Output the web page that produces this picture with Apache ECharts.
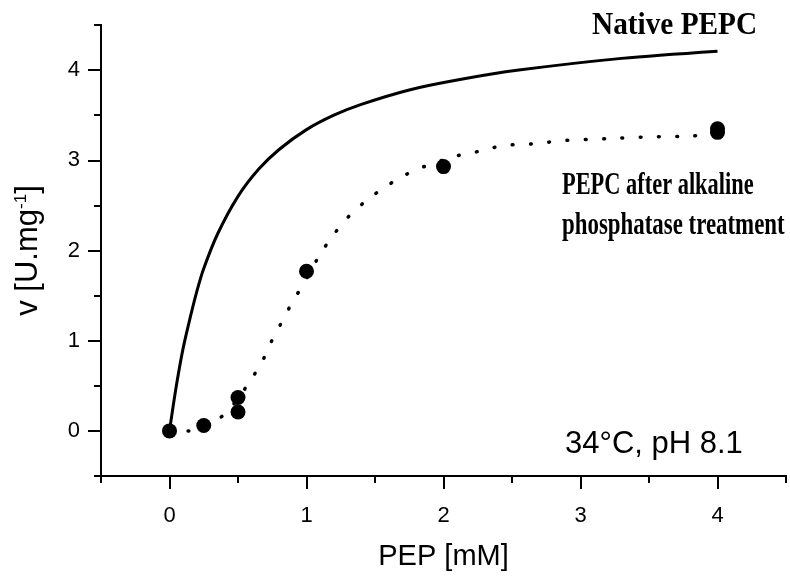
<!DOCTYPE html>
<html>
<head>
<meta charset="utf-8">
<script src="https://cdn.jsdelivr.net/npm/echarts@6/dist/echarts.min.js"></script>
<style>
  html, body { margin: 0; padding: 0; background: #fff; }
  #chart { width: 790px; height: 576px; }
</style>
</head>
<body>
<div id="chart"></div>
<script>
// Native PEPC: saturation curve (PEP in mM, v in U/mg)
const nativePep  = [0, 0.05, 0.1, 0.15, 0.2, 0.25, 0.35, 0.5, 0.65, 0.8, 1.0, 1.2, 1.4, 1.75, 2.1, 2.55, 3.3, 4.0];
const nativeRate = [0, 0.5, 0.92, 1.25, 1.55, 1.8, 2.18, 2.6, 2.9, 3.12, 3.34, 3.5, 3.62, 3.78, 3.89, 4.0, 4.13, 4.21];

// Phosphatase-treated PEPC: sigmoidal fit curve
const treatedFitPep  = [0, 0.15, 0.25, 0.4, 0.5, 0.6, 0.68, 0.74, 0.81, 0.88, 1.0, 1.1, 1.2, 1.31, 1.45, 1.58, 1.71, 1.84, 2.1, 2.23, 2.36, 2.49, 2.63, 2.76, 2.89, 3.2, 3.5, 3.82, 4.0];
const treatedFitRate = [0, 0.0, 0.05, 0.18, 0.36, 0.58, 0.78, 0.98, 1.18, 1.38, 1.69, 1.96, 2.18, 2.38, 2.57, 2.71, 2.83, 2.92, 3.05, 3.09, 3.14, 3.17, 3.18, 3.2, 3.22, 3.24, 3.26, 3.27, 3.3];

// Phosphatase-treated PEPC: measured rates
const treatedPep  = [0, 0.25, 0.5, 0.5, 1, 2, 4, 4];
const treatedRate = [0, 0.06, 0.21, 0.37, 1.77, 2.93, 3.35, 3.31];

// Labelled ticks
const xTicks = [0, 1, 2, 3, 4];
const yTicks = [0, 1, 2, 3, 4];

const pairs = (xs, ys) => xs.map((x, i) => [x, ys[i]]);

const sans = '"Liberation Sans", Arial, sans-serif';
const serif = '"Liberation Serif", "Times New Roman", serif';
const black = '#000';

// Shared range: minor ticks every 0.5, major (labelled) ticks at integers
const baseX = { type: 'value', min: -0.5, max: 4.5, interval: 0.5, gridIndex: 0, position: 'bottom', offset: 0 };
const baseY = { type: 'value', min: -0.5, max: 4.5, interval: 0.5, gridIndex: 0, position: 'left', offset: 0 };
const axisLineStyle = { show: true, onZero: false, lineStyle: { color: black, width: 2 } };

const chart = echarts.init(document.getElementById('chart'), null, { renderer: 'canvas' });

chart.setOption({
  backgroundColor: '#fff',
  animation: false,
  grid: { left: 101, right: 4, top: 25, bottom: 96, containLabel: false },
  xAxis: [
    Object.assign({}, baseX, {
      name: 'PEP [mM]',
      nameLocation: 'middle',
      nameGap: 66,
      nameTextStyle: { color: black, fontFamily: sans, fontSize: 29 },
      axisLine: axisLineStyle,
      axisTick: { show: true, length: 7, lineStyle: { color: black, width: 2 } },
      axisLabel: { show: true, customValues: xTicks, margin: 29, color: black, fontFamily: sans, fontSize: 22 },
      splitLine: { show: false }
    }),
    Object.assign({}, baseX, {
      axisLine: axisLineStyle,
      axisTick: { show: true, customValues: xTicks, length: 13, lineStyle: { color: black, width: 2 } },
      axisLabel: { show: false },
      splitLine: { show: false }
    })
  ],
  yAxis: [
    Object.assign({}, baseY, {
      name: 'v [U.mg{sup|-1}]',
      nameLocation: 'middle',
      nameRotate: 90,
      nameGap: 57,
      nameTextStyle: {
        color: black, fontFamily: sans, fontSize: 31,
        rich: { sup: { fontFamily: sans, fontSize: 17, color: black, verticalAlign: 'top', padding: [0, 0, 14, 0] } }
      },
      axisLine: axisLineStyle,
      axisTick: { show: true, length: 7, lineStyle: { color: black, width: 2 } },
      axisLabel: { show: true, customValues: yTicks, margin: 21, color: black, fontFamily: sans, fontSize: 22 },
      splitLine: { show: false }
    }),
    Object.assign({}, baseY, {
      axisLine: axisLineStyle,
      axisTick: { show: true, customValues: yTicks, length: 13, lineStyle: { color: black, width: 2 } },
      axisLabel: { show: false },
      splitLine: { show: false }
    })
  ],
  series: [
    {
      name: 'Native PEPC',
      type: 'line',
      xAxisIndex: 0, yAxisIndex: 0,
      data: pairs(nativePep, nativeRate),
      smooth: 0.3,
      symbol: 'none',
      lineStyle: { color: black, width: 3 },
      z: 3
    },
    {
      name: 'PEPC after alkaline phosphatase treatment (fit)',
      type: 'line',
      xAxisIndex: 0, yAxisIndex: 0,
      data: pairs(treatedFitPep, treatedFitRate),
      smooth: 0.3,
      symbol: 'none',
      lineStyle: { color: black, width: 3.5, type: [0.8, 17.5], cap: 'round' },
      z: 2
    },
    {
      name: 'PEPC after alkaline phosphatase treatment',
      type: 'scatter',
      xAxisIndex: 0, yAxisIndex: 0,
      data: pairs(treatedPep, treatedRate),
      symbol: 'circle',
      symbolSize: 15,
      itemStyle: { color: black, opacity: 1 },
      emphasis: { disabled: true },
      z: 4
    }
  ],
  graphic: [
    {
      type: 'text', x: 592, y: 26, scaleX: 0.915,
      style: { text: 'Native PEPC', font: 'bold 32px ' + serif, fill: black, textAlign: 'left', textVerticalAlign: 'middle' }
    },
    {
      type: 'text', x: 562, y: 186, scaleX: 0.70,
      style: { text: 'PEPC after alkaline', font: 'bold 32px ' + serif, fill: black, textAlign: 'left', textVerticalAlign: 'middle' }
    },
    {
      type: 'text', x: 562, y: 226, scaleX: 0.715,
      style: { text: 'phosphatase treatment', font: 'bold 32px ' + serif, fill: black, textAlign: 'left', textVerticalAlign: 'middle' }
    },
    {
      type: 'text', x: 565, y: 444,
      style: { text: '34\u00B0C, pH 8.1', font: '31px ' + sans, fill: black, textAlign: 'left', textVerticalAlign: 'middle' }
    }
  ]
});
</script>
</body>
</html>
